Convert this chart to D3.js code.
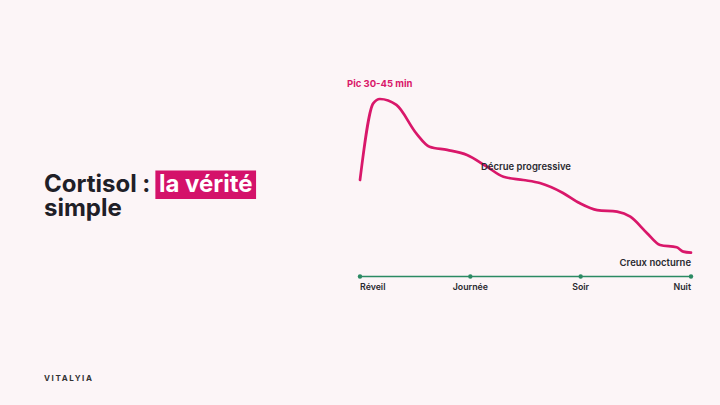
<!DOCTYPE html>
<html><head><meta charset="utf-8">
<script src="https://cdn.jsdelivr.net/npm/d3@7"></script>
<style>
html,body{margin:0;padding:0;background:#fcf5f7;}
svg{display:block;font-family:Inter, "Noto Sans", sans-serif;}
</style></head>
<body>
<svg id="c" width="720" height="405"></svg>
<script>
// Data
const phases = ["Réveil", "Journée", "Soir", "Nuit"];
const phasePos = [0, 1, 2, 3];
const curveX = [0, 0.12, 0.18, 0.33, 0.51, 0.63, 0.79, 0.97, 1.15, 1.30, 1.48, 1.63, 1.84, 1.99, 2.15, 2.33, 2.45, 2.60, 2.72, 2.87, 2.93, 3.0];
const curveLevel = [50, 92.6, 95, 91.7, 75.9, 68.5, 66.7, 63.9, 57.4, 51.8, 50, 48.3, 42.8, 37.2, 33.3, 32.4, 29.6, 20.6, 13.9, 12.6, 10.2, 9.6];
const annotations = ["Pic 30-45 min", "Décrue progressive", "Creux nocturne"];

const pink = "#d9176a", green = "#2b8a63", dark = "#1f2027";
const svg = d3.select("#c");

const x = d3.scaleLinear().domain([0, 3]).range([360, 691]);
const y = d3.scaleLinear().domain([0, 100]).range([270, 90]);

// Title
const fs = 24;
const t1 = svg.append("text").attr("x", 44).attr("y", 192)
  .attr("font-size", fs).attr("font-weight", 700).attr("fill", dark)
  .text("Cortisol :");
const bb = t1.node().getBBox();
const hlX = bb.x + bb.width + 5;
const rect = svg.append("rect");
const hlText = svg.append("text").attr("x", hlX + 3.5).attr("y", 192)
  .attr("font-size", fs).attr("font-weight", 700).attr("fill", "#fff").text("la vérité");
const hb = hlText.node().getBBox();
rect.attr("x", hlX).attr("y", 170.5)
  .attr("width", hb.width + 7).attr("height", 28.5).attr("fill", "#d4126a");
svg.append("text").attr("x", 44).attr("y", 216)
  .attr("font-size", fs).attr("font-weight", 700).attr("fill", dark).text("simple");

// Brand
svg.append("text").attr("x", 44).attr("y", 381)
  .attr("font-size", 8).attr("font-weight", 700).attr("letter-spacing", 1.6)
  .attr("fill", "#333").text("VITALYIA");

// Axis line
svg.append("line").attr("x1", x(0)).attr("x2", x(3)).attr("y1", 276.5).attr("y2", 276.5)
  .attr("stroke", green).attr("stroke-width", 1.5);
svg.selectAll("circle.tick").data(phasePos).join("circle")
  .attr("cx", d => x(d)).attr("cy", 276.5).attr("r", 2.2).attr("fill", green);
svg.selectAll("text.ph").data(phases).join("text")
  .attr("x", (d, i) => x(phasePos[i])).attr("y", 290)
  .attr("text-anchor", (d, i) => i === 0 ? "start" : (i === phases.length - 1 ? "end" : "middle"))
  .attr("font-size", 8.8).attr("font-weight", 600).attr("fill", "#2a2a30").text(d => d);

// Curve
const pts = curveX.map((d, i) => [d, curveLevel[i]]);
svg.append("path").datum(pts)
  .attr("d", d3.line().x(d => x(d[0])).y(d => y(d[1])).curve(d3.curveMonotoneX))
  .attr("fill", "none").attr("stroke", pink).attr("stroke-width", 2.7).attr("stroke-linecap", "round");

// Annotations
svg.append("text").attr("x", 347).attr("y", 87).attr("font-size", 9.5).attr("font-weight", 700)
  .attr("fill", pink).text(annotations[0]);
svg.append("text").attr("x", 481).attr("y", 170).attr("font-size", 9.5).attr("font-weight", 600)
  .attr("fill", "#2a2a30").text(annotations[1]);
svg.append("text").attr("x", 691).attr("y", 266).attr("text-anchor", "end").attr("font-size", 9.5).attr("font-weight", 600)
  .attr("fill", "#2a2a30").text(annotations[2]);
</script>
</body></html>
